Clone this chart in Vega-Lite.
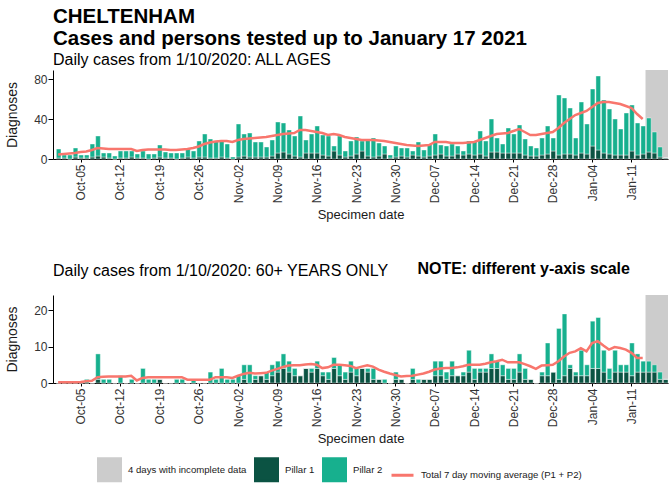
{
"$schema":"https://vega.github.io/schema/vega-lite/v6.json",
"background":"white",
"padding":{"left":5,"top":6,"right":0,"bottom":0},
"config":{
 "font":"Liberation Sans",
 "view":{"stroke":null},
 "axis":{"grid":false,"domainColor":"#000","tickColor":"#000","labelColor":"#333","labelFontSize":12,"titleFontSize":14,"titleFontWeight":"normal","titleColor":"#1a1a1a","labelFont":"Liberation Sans","titleFont":"Liberation Sans"},
 "title":{"font":"Liberation Sans","color":"#000","subtitleFont":"Liberation Sans","subtitleColor":"#000"},
 "concat":{"spacing":38}
},
"datasets":{
"gray":[{"s":"2021-01-14T00:00","e":"2021-01-18T00:00","series":"4 days with incomplete data"}],
"all":[
{"d":"2020-10-01T00:00","Pillar 1":1,"Pillar 2":9,"ma":4.5},
{"d":"2020-10-02T00:00","Pillar 1":1,"Pillar 2":3,"ma":5},
{"d":"2020-10-03T00:00","Pillar 1":0,"Pillar 2":4,"ma":5.5},
{"d":"2020-10-04T00:00","Pillar 1":2,"Pillar 2":9,"ma":6},
{"d":"2020-10-05T00:00","Pillar 1":1,"Pillar 2":3,"ma":7},
{"d":"2020-10-06T00:00","Pillar 1":1,"Pillar 2":3,"ma":7.5},
{"d":"2020-10-07T00:00","Pillar 1":2,"Pillar 2":13,"ma":9},
{"d":"2020-10-08T00:00","Pillar 1":3,"Pillar 2":20,"ma":11},
{"d":"2020-10-09T00:00","Pillar 1":2,"Pillar 2":4,"ma":10.5},
{"d":"2020-10-10T00:00","Pillar 1":1,"Pillar 2":5,"ma":10},
{"d":"2020-10-11T00:00","Pillar 1":0,"Pillar 2":3,"ma":10},
{"d":"2020-10-12T00:00","Pillar 1":1,"Pillar 2":7,"ma":10},
{"d":"2020-10-13T00:00","Pillar 1":1,"Pillar 2":7,"ma":10},
{"d":"2020-10-14T00:00","Pillar 1":2,"Pillar 2":6,"ma":10},
{"d":"2020-10-15T00:00","Pillar 1":1,"Pillar 2":4,"ma":8},
{"d":"2020-10-16T00:00","Pillar 1":1,"Pillar 2":7,"ma":9},
{"d":"2020-10-17T00:00","Pillar 1":0,"Pillar 2":5,"ma":9.5},
{"d":"2020-10-18T00:00","Pillar 1":1,"Pillar 2":4,"ma":9.5},
{"d":"2020-10-19T00:00","Pillar 1":2,"Pillar 2":12,"ma":9.5},
{"d":"2020-10-20T00:00","Pillar 1":1,"Pillar 2":6,"ma":9.5},
{"d":"2020-10-21T00:00","Pillar 1":1,"Pillar 2":5,"ma":9},
{"d":"2020-10-22T00:00","Pillar 1":0,"Pillar 2":6,"ma":9},
{"d":"2020-10-23T00:00","Pillar 1":1,"Pillar 2":5,"ma":9.5},
{"d":"2020-10-24T00:00","Pillar 1":2,"Pillar 2":8,"ma":10},
{"d":"2020-10-25T00:00","Pillar 1":1,"Pillar 2":7,"ma":11},
{"d":"2020-10-26T00:00","Pillar 1":2,"Pillar 2":16,"ma":12.5},
{"d":"2020-10-27T00:00","Pillar 1":2,"Pillar 2":23,"ma":15},
{"d":"2020-10-28T00:00","Pillar 1":1,"Pillar 2":19,"ma":16.5},
{"d":"2020-10-29T00:00","Pillar 1":1,"Pillar 2":17,"ma":17.5},
{"d":"2020-10-30T00:00","Pillar 1":2,"Pillar 2":16,"ma":18},
{"d":"2020-10-31T00:00","Pillar 1":1,"Pillar 2":14,"ma":18},
{"d":"2020-11-01T00:00","Pillar 1":0,"Pillar 2":2,"ma":17},
{"d":"2020-11-02T00:00","Pillar 1":2,"Pillar 2":33,"ma":19},
{"d":"2020-11-03T00:00","Pillar 1":3,"Pillar 2":22,"ma":20},
{"d":"2020-11-04T00:00","Pillar 1":2,"Pillar 2":24,"ma":20.5},
{"d":"2020-11-05T00:00","Pillar 1":2,"Pillar 2":15,"ma":21},
{"d":"2020-11-06T00:00","Pillar 1":2,"Pillar 2":15,"ma":21.5},
{"d":"2020-11-07T00:00","Pillar 1":2,"Pillar 2":10,"ma":22},
{"d":"2020-11-08T00:00","Pillar 1":3,"Pillar 2":16,"ma":23},
{"d":"2020-11-09T00:00","Pillar 1":6,"Pillar 2":31,"ma":24},
{"d":"2020-11-10T00:00","Pillar 1":7,"Pillar 2":29,"ma":25},
{"d":"2020-11-11T00:00","Pillar 1":5,"Pillar 2":24,"ma":25.5},
{"d":"2020-11-12T00:00","Pillar 1":3,"Pillar 2":20,"ma":26},
{"d":"2020-11-13T00:00","Pillar 1":2,"Pillar 2":41,"ma":29},
{"d":"2020-11-14T00:00","Pillar 1":6,"Pillar 2":13,"ma":29},
{"d":"2020-11-15T00:00","Pillar 1":6,"Pillar 2":19,"ma":28},
{"d":"2020-11-16T00:00","Pillar 1":6,"Pillar 2":27,"ma":27},
{"d":"2020-11-17T00:00","Pillar 1":4,"Pillar 2":20,"ma":26},
{"d":"2020-11-18T00:00","Pillar 1":3,"Pillar 2":20,"ma":24},
{"d":"2020-11-19T00:00","Pillar 1":8,"Pillar 2":5,"ma":25},
{"d":"2020-11-20T00:00","Pillar 1":4,"Pillar 2":19,"ma":24},
{"d":"2020-11-21T00:00","Pillar 1":2,"Pillar 2":6,"ma":22},
{"d":"2020-11-22T00:00","Pillar 1":3,"Pillar 2":15,"ma":21},
{"d":"2020-11-23T00:00","Pillar 1":5,"Pillar 2":17,"ma":20},
{"d":"2020-11-24T00:00","Pillar 1":8,"Pillar 2":10,"ma":19},
{"d":"2020-11-25T00:00","Pillar 1":3,"Pillar 2":16,"ma":19},
{"d":"2020-11-26T00:00","Pillar 1":2,"Pillar 2":19,"ma":19},
{"d":"2020-11-27T00:00","Pillar 1":3,"Pillar 2":13,"ma":18.5},
{"d":"2020-11-28T00:00","Pillar 1":5,"Pillar 2":8,"ma":18},
{"d":"2020-11-29T00:00","Pillar 1":1,"Pillar 2":3,"ma":17},
{"d":"2020-11-30T00:00","Pillar 1":2,"Pillar 2":11,"ma":16},
{"d":"2020-12-01T00:00","Pillar 1":3,"Pillar 2":8,"ma":15},
{"d":"2020-12-02T00:00","Pillar 1":2,"Pillar 2":9,"ma":14},
{"d":"2020-12-03T00:00","Pillar 1":4,"Pillar 2":4,"ma":13.5},
{"d":"2020-12-04T00:00","Pillar 1":3,"Pillar 2":14,"ma":13},
{"d":"2020-12-05T00:00","Pillar 1":2,"Pillar 2":7,"ma":13.5},
{"d":"2020-12-06T00:00","Pillar 1":3,"Pillar 2":12,"ma":14},
{"d":"2020-12-07T00:00","Pillar 1":4,"Pillar 2":21,"ma":17},
{"d":"2020-12-08T00:00","Pillar 1":5,"Pillar 2":9,"ma":17},
{"d":"2020-12-09T00:00","Pillar 1":3,"Pillar 2":10,"ma":17},
{"d":"2020-12-10T00:00","Pillar 1":3,"Pillar 2":12,"ma":16},
{"d":"2020-12-11T00:00","Pillar 1":5,"Pillar 2":8,"ma":16},
{"d":"2020-12-12T00:00","Pillar 1":4,"Pillar 2":4,"ma":16},
{"d":"2020-12-13T00:00","Pillar 1":5,"Pillar 2":13,"ma":16.5},
{"d":"2020-12-14T00:00","Pillar 1":4,"Pillar 2":14,"ma":17},
{"d":"2020-12-15T00:00","Pillar 1":5,"Pillar 2":23,"ma":19},
{"d":"2020-12-16T00:00","Pillar 1":3,"Pillar 2":15,"ma":21},
{"d":"2020-12-17T00:00","Pillar 1":7,"Pillar 2":33,"ma":23},
{"d":"2020-12-18T00:00","Pillar 1":7,"Pillar 2":14,"ma":25},
{"d":"2020-12-19T00:00","Pillar 1":6,"Pillar 2":9,"ma":25.5},
{"d":"2020-12-20T00:00","Pillar 1":6,"Pillar 2":25,"ma":26},
{"d":"2020-12-21T00:00","Pillar 1":6,"Pillar 2":19,"ma":28},
{"d":"2020-12-22T00:00","Pillar 1":6,"Pillar 2":28,"ma":30},
{"d":"2020-12-23T00:00","Pillar 1":4,"Pillar 2":16,"ma":27},
{"d":"2020-12-24T00:00","Pillar 1":3,"Pillar 2":10,"ma":24},
{"d":"2020-12-25T00:00","Pillar 1":3,"Pillar 2":8,"ma":24},
{"d":"2020-12-26T00:00","Pillar 1":4,"Pillar 2":17,"ma":25},
{"d":"2020-12-27T00:00","Pillar 1":5,"Pillar 2":28,"ma":26},
{"d":"2020-12-28T00:00","Pillar 1":8,"Pillar 2":13,"ma":27},
{"d":"2020-12-29T00:00","Pillar 1":4,"Pillar 2":60,"ma":31},
{"d":"2020-12-30T00:00","Pillar 1":5,"Pillar 2":56,"ma":36},
{"d":"2020-12-31T00:00","Pillar 1":5,"Pillar 2":46,"ma":40},
{"d":"2021-01-01T00:00","Pillar 1":4,"Pillar 2":17,"ma":44},
{"d":"2021-01-02T00:00","Pillar 1":6,"Pillar 2":51,"ma":46},
{"d":"2021-01-03T00:00","Pillar 1":5,"Pillar 2":30,"ma":48},
{"d":"2021-01-04T00:00","Pillar 1":13,"Pillar 2":57,"ma":52},
{"d":"2021-01-05T00:00","Pillar 1":9,"Pillar 2":74,"ma":56},
{"d":"2021-01-06T00:00","Pillar 1":6,"Pillar 2":53,"ma":57},
{"d":"2021-01-07T00:00","Pillar 1":5,"Pillar 2":45,"ma":57},
{"d":"2021-01-08T00:00","Pillar 1":4,"Pillar 2":36,"ma":56},
{"d":"2021-01-09T00:00","Pillar 1":4,"Pillar 2":26,"ma":55},
{"d":"2021-01-10T00:00","Pillar 1":4,"Pillar 2":42,"ma":53},
{"d":"2021-01-11T00:00","Pillar 1":8,"Pillar 2":46,"ma":51},
{"d":"2021-01-12T00:00","Pillar 1":4,"Pillar 2":32,"ma":45},
{"d":"2021-01-13T00:00","Pillar 1":5,"Pillar 2":28,"ma":40},
{"d":"2021-01-14T00:00","Pillar 1":7,"Pillar 2":34},
{"d":"2021-01-15T00:00","Pillar 1":6,"Pillar 2":21},
{"d":"2021-01-16T00:00","Pillar 1":2,"Pillar 2":10},
{"d":"2021-01-17T00:00","Pillar 1":1,"Pillar 2":0}
],
"old":[
{"d":"2020-10-01T00:00","Pillar 1":0,"Pillar 2":0,"ma":0.2},
{"d":"2020-10-02T00:00","Pillar 1":0,"Pillar 2":0,"ma":0.2},
{"d":"2020-10-03T00:00","Pillar 1":0,"Pillar 2":0,"ma":0.2},
{"d":"2020-10-04T00:00","Pillar 1":0,"Pillar 2":0,"ma":0.2},
{"d":"2020-10-05T00:00","Pillar 1":0,"Pillar 2":0,"ma":0.3},
{"d":"2020-10-06T00:00","Pillar 1":0,"Pillar 2":1,"ma":0.5},
{"d":"2020-10-07T00:00","Pillar 1":0,"Pillar 2":0,"ma":0.6},
{"d":"2020-10-08T00:00","Pillar 1":1,"Pillar 2":7,"ma":1.6},
{"d":"2020-10-09T00:00","Pillar 1":0,"Pillar 2":1,"ma":1.7},
{"d":"2020-10-10T00:00","Pillar 1":0,"Pillar 2":1,"ma":1.8},
{"d":"2020-10-11T00:00","Pillar 1":0,"Pillar 2":0,"ma":1.8},
{"d":"2020-10-12T00:00","Pillar 1":0,"Pillar 2":2,"ma":1.8},
{"d":"2020-10-13T00:00","Pillar 1":0,"Pillar 2":0,"ma":1.8},
{"d":"2020-10-14T00:00","Pillar 1":0,"Pillar 2":1,"ma":2},
{"d":"2020-10-15T00:00","Pillar 1":0,"Pillar 2":0,"ma":0.7},
{"d":"2020-10-16T00:00","Pillar 1":0,"Pillar 2":4,"ma":1.4},
{"d":"2020-10-17T00:00","Pillar 1":0,"Pillar 2":1,"ma":1.6},
{"d":"2020-10-18T00:00","Pillar 1":0,"Pillar 2":1,"ma":1.6},
{"d":"2020-10-19T00:00","Pillar 1":1,"Pillar 2":0,"ma":1.6},
{"d":"2020-10-20T00:00","Pillar 1":0,"Pillar 2":0,"ma":1.6},
{"d":"2020-10-21T00:00","Pillar 1":0,"Pillar 2":0,"ma":1.6},
{"d":"2020-10-22T00:00","Pillar 1":0,"Pillar 2":1,"ma":1.6},
{"d":"2020-10-23T00:00","Pillar 1":0,"Pillar 2":1,"ma":1.6},
{"d":"2020-10-24T00:00","Pillar 1":0,"Pillar 2":0,"ma":0.9},
{"d":"2020-10-25T00:00","Pillar 1":0,"Pillar 2":1,"ma":0.9},
{"d":"2020-10-26T00:00","Pillar 1":0,"Pillar 2":0,"ma":0.9},
{"d":"2020-10-27T00:00","Pillar 1":0,"Pillar 2":0,"ma":0.9},
{"d":"2020-10-28T00:00","Pillar 1":0,"Pillar 2":3,"ma":0.9},
{"d":"2020-10-29T00:00","Pillar 1":0,"Pillar 2":1,"ma":1.6},
{"d":"2020-10-30T00:00","Pillar 1":0,"Pillar 2":4,"ma":1.6},
{"d":"2020-10-31T00:00","Pillar 1":0,"Pillar 2":1,"ma":1.6},
{"d":"2020-11-01T00:00","Pillar 1":0,"Pillar 2":1,"ma":1.4},
{"d":"2020-11-02T00:00","Pillar 1":0,"Pillar 2":2,"ma":2},
{"d":"2020-11-03T00:00","Pillar 1":1,"Pillar 2":4,"ma":2.5},
{"d":"2020-11-04T00:00","Pillar 1":0,"Pillar 2":5,"ma":2.8},
{"d":"2020-11-05T00:00","Pillar 1":1,"Pillar 2":1,"ma":2.6},
{"d":"2020-11-06T00:00","Pillar 1":2,"Pillar 2":0,"ma":2.7},
{"d":"2020-11-07T00:00","Pillar 1":1,"Pillar 2":2,"ma":2.8},
{"d":"2020-11-08T00:00","Pillar 1":2,"Pillar 2":3,"ma":3.4},
{"d":"2020-11-09T00:00","Pillar 1":3,"Pillar 2":3,"ma":3.9},
{"d":"2020-11-10T00:00","Pillar 1":4,"Pillar 2":4,"ma":4.4},
{"d":"2020-11-11T00:00","Pillar 1":3,"Pillar 2":3,"ma":4.8},
{"d":"2020-11-12T00:00","Pillar 1":2,"Pillar 2":2,"ma":4.9},
{"d":"2020-11-13T00:00","Pillar 1":2,"Pillar 2":0,"ma":4.9},
{"d":"2020-11-14T00:00","Pillar 1":4,"Pillar 2":0,"ma":5.1},
{"d":"2020-11-15T00:00","Pillar 1":3,"Pillar 2":1,"ma":5.2},
{"d":"2020-11-16T00:00","Pillar 1":4,"Pillar 2":2,"ma":5},
{"d":"2020-11-17T00:00","Pillar 1":2,"Pillar 2":1,"ma":4.1},
{"d":"2020-11-18T00:00","Pillar 1":1,"Pillar 2":2,"ma":4.3},
{"d":"2020-11-19T00:00","Pillar 1":4,"Pillar 2":3,"ma":5},
{"d":"2020-11-20T00:00","Pillar 1":2,"Pillar 2":3,"ma":5},
{"d":"2020-11-21T00:00","Pillar 1":1,"Pillar 2":2,"ma":4.9},
{"d":"2020-11-22T00:00","Pillar 1":3,"Pillar 2":3,"ma":4.7},
{"d":"2020-11-23T00:00","Pillar 1":2,"Pillar 2":2,"ma":4.1},
{"d":"2020-11-24T00:00","Pillar 1":4,"Pillar 2":0,"ma":4.5},
{"d":"2020-11-25T00:00","Pillar 1":3,"Pillar 2":1,"ma":4.9},
{"d":"2020-11-26T00:00","Pillar 1":1,"Pillar 2":3,"ma":4.5},
{"d":"2020-11-27T00:00","Pillar 1":1,"Pillar 2":0,"ma":3.7},
{"d":"2020-11-28T00:00","Pillar 1":0,"Pillar 2":1,"ma":3.1},
{"d":"2020-11-29T00:00","Pillar 1":0,"Pillar 2":0,"ma":2.6},
{"d":"2020-11-30T00:00","Pillar 1":1,"Pillar 2":2,"ma":2.2},
{"d":"2020-12-01T00:00","Pillar 1":1,"Pillar 2":0,"ma":1.8},
{"d":"2020-12-02T00:00","Pillar 1":0,"Pillar 2":0,"ma":1.9},
{"d":"2020-12-03T00:00","Pillar 1":1,"Pillar 2":3,"ma":2},
{"d":"2020-12-04T00:00","Pillar 1":0,"Pillar 2":1,"ma":2.3},
{"d":"2020-12-05T00:00","Pillar 1":1,"Pillar 2":0,"ma":2.6},
{"d":"2020-12-06T00:00","Pillar 1":1,"Pillar 2":0,"ma":3.1},
{"d":"2020-12-07T00:00","Pillar 1":2,"Pillar 2":4,"ma":3.7},
{"d":"2020-12-08T00:00","Pillar 1":2,"Pillar 2":4,"ma":4},
{"d":"2020-12-09T00:00","Pillar 1":1,"Pillar 2":2,"ma":4.1},
{"d":"2020-12-10T00:00","Pillar 1":2,"Pillar 2":4,"ma":4.1},
{"d":"2020-12-11T00:00","Pillar 1":2,"Pillar 2":0,"ma":4.3},
{"d":"2020-12-12T00:00","Pillar 1":2,"Pillar 2":1,"ma":4.6},
{"d":"2020-12-13T00:00","Pillar 1":3,"Pillar 2":6,"ma":5},
{"d":"2020-12-14T00:00","Pillar 1":1,"Pillar 2":3,"ma":5},
{"d":"2020-12-15T00:00","Pillar 1":3,"Pillar 2":1,"ma":5},
{"d":"2020-12-16T00:00","Pillar 1":3,"Pillar 2":1,"ma":5.3},
{"d":"2020-12-17T00:00","Pillar 1":4,"Pillar 2":4,"ma":5.7},
{"d":"2020-12-18T00:00","Pillar 1":4,"Pillar 2":2,"ma":6},
{"d":"2020-12-19T00:00","Pillar 1":2,"Pillar 2":3,"ma":6.4},
{"d":"2020-12-20T00:00","Pillar 1":1,"Pillar 2":3,"ma":5.7},
{"d":"2020-12-21T00:00","Pillar 1":1,"Pillar 2":3,"ma":5.7},
{"d":"2020-12-22T00:00","Pillar 1":3,"Pillar 2":5,"ma":5.7},
{"d":"2020-12-23T00:00","Pillar 1":1,"Pillar 2":3,"ma":5.2},
{"d":"2020-12-24T00:00","Pillar 1":1,"Pillar 2":0,"ma":4.6},
{"d":"2020-12-25T00:00","Pillar 1":0,"Pillar 2":0,"ma":3.9},
{"d":"2020-12-26T00:00","Pillar 1":2,"Pillar 2":1,"ma":4.8},
{"d":"2020-12-27T00:00","Pillar 1":2,"Pillar 2":9,"ma":4.9},
{"d":"2020-12-28T00:00","Pillar 1":3,"Pillar 2":0,"ma":5},
{"d":"2020-12-29T00:00","Pillar 1":1,"Pillar 2":14,"ma":6},
{"d":"2020-12-30T00:00","Pillar 1":2,"Pillar 2":17,"ma":7.3},
{"d":"2020-12-31T00:00","Pillar 1":4,"Pillar 2":1,"ma":8.3},
{"d":"2021-01-01T00:00","Pillar 1":2,"Pillar 2":1,"ma":8.7},
{"d":"2021-01-02T00:00","Pillar 1":2,"Pillar 2":7,"ma":9.6},
{"d":"2021-01-03T00:00","Pillar 1":2,"Pillar 2":3,"ma":8.7},
{"d":"2021-01-04T00:00","Pillar 1":4,"Pillar 2":13,"ma":11},
{"d":"2021-01-05T00:00","Pillar 1":4,"Pillar 2":14,"ma":11.5},
{"d":"2021-01-06T00:00","Pillar 1":3,"Pillar 2":6,"ma":10.3},
{"d":"2021-01-07T00:00","Pillar 1":1,"Pillar 2":3,"ma":9.2},
{"d":"2021-01-08T00:00","Pillar 1":3,"Pillar 2":6,"ma":9.9},
{"d":"2021-01-09T00:00","Pillar 1":3,"Pillar 2":2,"ma":9.6},
{"d":"2021-01-10T00:00","Pillar 1":3,"Pillar 2":2,"ma":9.2},
{"d":"2021-01-11T00:00","Pillar 1":2,"Pillar 2":9,"ma":8.3},
{"d":"2021-01-12T00:00","Pillar 1":3,"Pillar 2":5,"ma":6.9},
{"d":"2021-01-13T00:00","Pillar 1":3,"Pillar 2":3,"ma":6.9},
{"d":"2021-01-14T00:00","Pillar 1":3,"Pillar 2":3},
{"d":"2021-01-15T00:00","Pillar 1":3,"Pillar 2":2},
{"d":"2021-01-16T00:00","Pillar 1":1,"Pillar 2":2},
{"d":"2021-01-17T00:00","Pillar 1":1,"Pillar 2":0}
]
},
"resolve":{"scale":{"y":"independent"}},
"vconcat":[
{
"width":615,"height":89,
"title":{"text":["CHELTENHAM","Cases and persons tested up to January 17 2021"],"subtitle":"Daily cases from 1/10/2020: ALL AGES","anchor":"start","frame":"group","fontSize":20.5,"fontWeight":"bold","lineHeight":22,"subtitleFontSize":16,"subtitlePadding":3,"offset":2},
"layer":[
{"data":{"name":"gray"},"mark":{"type":"rect"},
 "encoding":{
  "x":{"field":"s","type":"temporal","title":"Specimen date"},
  "x2":{"field":"e"},
  "color":{"field":"series","type":"nominal",
   "scale":{"domain":["4 days with incomplete data","Pillar 1","Pillar 2","Total 7 day moving average (P1 + P2)"],"range":["#cccccc","#0b5343","#17b08e","#f8766d"]},
   "legend":{"orient":"none","legendX":44,"legendY":387,"direction":"horizontal","title":null,"symbolSize":484,"symbolType":"square","labelFontSize":9.6,"labelColor":"#1a1a1a","labelFont":"Liberation Sans","columnPadding":2,"labelOffset":6,"labelLimit":300,
    "encode":{"symbols":{"update":{
     "shape":[{"test":"datum.value === 'Total 7 day moving average (P1 + P2)'","value":"stroke"},{"value":"square"}],
     "fill":[{"test":"datum.value === '4 days with incomplete data'","value":"#cccccc"},{"test":"datum.value === 'Pillar 1'","value":"#0b5343"},{"test":"datum.value === 'Pillar 2'","value":"#17b08e"},{"value":"transparent"}],
     "stroke":[{"test":"datum.value === 'Total 7 day moving average (P1 + P2)'","value":"#f8766d"},{"value":"transparent"}],
     "strokeWidth":{"value":3},
     "opacity":{"value":1}}}}}}}},
{"data":{"name":"all"},"transform":[{"fold":["Pillar 1","Pillar 2"],"as":["series","value"]}],
 "mark":{"type":"bar","stroke":"white","strokeWidth":0.4},
 "encoding":{
  "x":{"field":"d","type":"temporal","timeUnit":"yearmonthdate","title":"Specimen date",
   "scale":{"domain":[{"year":2020,"month":9,"date":30,"hours":14},{"year":2021,"month":1,"date":18}],"nice":false},
   "axis":{"values":[{"year":2020,"month":10,"date":5,"hours":12},{"year":2020,"month":10,"date":12,"hours":12},{"year":2020,"month":10,"date":19,"hours":12},{"year":2020,"month":10,"date":26,"hours":12},{"year":2020,"month":11,"date":2,"hours":12},{"year":2020,"month":11,"date":9,"hours":12},{"year":2020,"month":11,"date":16,"hours":12},{"year":2020,"month":11,"date":23,"hours":12},{"year":2020,"month":11,"date":30,"hours":12},{"year":2020,"month":12,"date":7,"hours":12},{"year":2020,"month":12,"date":14,"hours":12},{"year":2020,"month":12,"date":21,"hours":12},{"year":2020,"month":12,"date":28,"hours":12},{"year":2021,"month":1,"date":4,"hours":12},{"year":2021,"month":1,"date":11,"hours":12}],
    "format":"%b-%d","labelAngle":-90,"tickSize":3,"labelPadding":2,"titlePadding":6,"titleFontSize":13}},
  "y":{"field":"value","type":"quantitative","title":"Diagnoses","stack":"zero","scale":{"domain":[0,89],"nice":false},
   "axis":{"values":[0,20,40,60,80],"tickSize":5,"labelPadding":1,"titlePadding":14}},
  "color":{"field":"series","type":"nominal"},
  "order":{"field":"series","sort":"ascending"}}},
{"data":{"name":"all"},"mark":{"type":"line","strokeWidth":2.5},
 "encoding":{
  "x":{"field":"d","type":"temporal","timeUnit":"yearmonthdate","bandPosition":0.5,"title":"Specimen date"},
  "y":{"field":"ma","type":"quantitative","title":"Diagnoses"},
  "color":{"datum":"Total 7 day moving average (P1 + P2)"}}}
]},
{
"width":615,"height":88,
"title":{"text":"Daily cases from 1/10/2020: 60+ YEARS ONLY","anchor":"start","frame":"group","fontSize":16,"fontWeight":"normal","offset":-18},
"layer":[
{"data":{"name":"gray"},"mark":{"type":"rect"},
 "encoding":{
  "x":{"field":"s","type":"temporal","title":"Specimen date"},
  "x2":{"field":"e"},
  "color":{"field":"series","type":"nominal"}}},
{"data":{"name":"old"},"transform":[{"fold":["Pillar 1","Pillar 2"],"as":["series","value"]}],
 "mark":{"type":"bar","stroke":"white","strokeWidth":0.4},
 "encoding":{
  "x":{"field":"d","type":"temporal","timeUnit":"yearmonthdate","title":"Specimen date",
   "scale":{"domain":[{"year":2020,"month":9,"date":30,"hours":14},{"year":2021,"month":1,"date":18}],"nice":false},
   "axis":{"values":[{"year":2020,"month":10,"date":5,"hours":12},{"year":2020,"month":10,"date":12,"hours":12},{"year":2020,"month":10,"date":19,"hours":12},{"year":2020,"month":10,"date":26,"hours":12},{"year":2020,"month":11,"date":2,"hours":12},{"year":2020,"month":11,"date":9,"hours":12},{"year":2020,"month":11,"date":16,"hours":12},{"year":2020,"month":11,"date":23,"hours":12},{"year":2020,"month":11,"date":30,"hours":12},{"year":2020,"month":12,"date":7,"hours":12},{"year":2020,"month":12,"date":14,"hours":12},{"year":2020,"month":12,"date":21,"hours":12},{"year":2020,"month":12,"date":28,"hours":12},{"year":2021,"month":1,"date":4,"hours":12},{"year":2021,"month":1,"date":11,"hours":12}],
    "format":"%b-%d","labelAngle":-90,"tickSize":3,"labelPadding":2,"titlePadding":6,"titleFontSize":13}},
  "y":{"field":"value","type":"quantitative","title":"Diagnoses","stack":"zero","scale":{"domain":[0,24.2],"nice":false},
   "axis":{"values":[0,5,10,15,20],"tickSize":5,"labelPadding":1,"titlePadding":14}},
  "color":{"field":"series","type":"nominal"},
  "order":{"field":"series","sort":"ascending"}}},
{"data":{"name":"old"},"mark":{"type":"line","strokeWidth":2.5},
 "encoding":{
  "x":{"field":"d","type":"temporal","timeUnit":"yearmonthdate","bandPosition":0.5,"title":"Specimen date"},
  "y":{"field":"ma","type":"quantitative","title":"Diagnoses"},
  "color":{"datum":"Total 7 day moving average (P1 + P2)"}}},
{"data":{"values":[{}]},
 "mark":{"type":"text","text":"NOTE: different y-axis scale","fontSize":16,"fontWeight":"bold","align":"left","baseline":"middle","font":"Liberation Sans","color":"#000"},
 "encoding":{
  "x":{"datum":{"year":2020,"month":12,"date":4,"hours":10},"type":"temporal"},
  "y":{"datum":31.35,"type":"quantitative"}}}
]}
]
}
